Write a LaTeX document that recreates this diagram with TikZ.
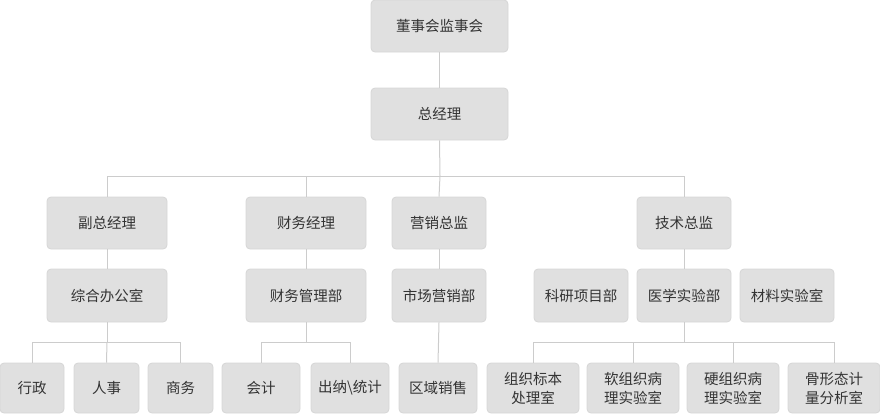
\documentclass[tikz,border=0pt]{standalone}
\usepackage{fontspec}
\setmainfont{Noto Sans CJK SC}
\definecolor{boxfill}{HTML}{E0E0E0}
\definecolor{boxline}{HTML}{D6D6D6}
\definecolor{conn}{HTML}{CCCCCC}
\definecolor{txt}{HTML}{333333}
\begin{document}
\begin{tikzpicture}[x=1pt,y=-1pt,
  box/.style={rectangle,rounded corners=4pt,fill=boxfill,draw=boxline,line width=0.8pt,
    inner sep=0pt,text=txt,font=\fontsize{14.5}{19}\selectfont,align=center,minimum height=52pt},
  link/.style={draw=conn,line width=1pt}]
\useasboundingbox (0,0) rectangle (880,413);
% level 0/1
\node[box,minimum width=137pt] (dsh) at (439.5,26) {董事会监事会};
\node[box,minimum width=137pt] (zjl) at (439.5,114) {总经理};
% level 2
\node[box,minimum width=120pt] (fz) at (107,223) {副总经理};
\node[box,minimum width=120pt] (cw) at (306,223) {财务经理};
\node[box,minimum width=94pt] (yx) at (439,223) {营销总监};
\node[box,minimum width=94pt] (js) at (684,223) {技术总监};
% level 3
\node[box,minimum width=120pt,minimum height=53pt] (zh) at (107,295.5) {综合办公室};
\node[box,minimum width=120pt,minimum height=53pt] (cwgl) at (306,295.5) {财务管理部};
\node[box,minimum width=94pt,minimum height=53pt] (sc) at (439,295.5) {市场营销部};
\node[box,minimum width=94pt,minimum height=53pt] (ky) at (581,295.5) {科研项目部};
\node[box,minimum width=94pt,minimum height=53pt] (yxsy) at (684,295.5) {医学实验部};
\node[box,minimum width=94pt,minimum height=53pt] (cl) at (787,295.5) {材料实验室};
% level 4
\node[box,minimum width=64pt,minimum height=50pt] (xz) at (32,388) {行政};
\node[box,minimum width=65pt,minimum height=50pt] (rs) at (106.5,388) {人事};
\node[box,minimum width=65pt,minimum height=50pt] (sw) at (180.5,388) {商务};
\node[box,minimum width=78pt,minimum height=50pt] (kj) at (261,388) {会计};
\node[box,minimum width=78pt,minimum height=50pt] (cn) at (350,388) {出纳\textbackslash 统计};
\node[box,minimum width=78pt,minimum height=50pt] (qy) at (438,388) {区域销售};
\node[box,minimum width=92pt,minimum height=50pt] (zz) at (533,388) {组织标本\\处理室};
\node[box,minimum width=92pt,minimum height=50pt] (rz) at (633,388) {软组织病\\理实验室};
\node[box,minimum width=92pt,minimum height=50pt] (yz) at (733,388) {硬组织病\\理实验室};
\node[box,minimum width=92pt,minimum height=50pt] (gx) at (834,388) {骨形态计\\量分析室};
% bus coordinates
\coordinate (b1) at (440,176);
\coordinate (b2) at (107,342);
\coordinate (b3) at (306,342);
\coordinate (b4) at (684,342);
% connectors
\draw[link] (dsh.south) -- (zjl.north);
\draw[link] (zjl.south) -- (b1);
\draw[link] (b1) -| (fz.north);
\draw[link] (b1) -| (cw.north);
\draw[link] (b1) -- (yx.north);
\draw[link] (b1) -| (js.north);
\draw[link] (fz.south) -- (zh.north);
\draw[link] (cw.south) -- (cwgl.north);
\draw[link] (yx.south) -- (sc.north);
\draw[link] (js.south) -- (yxsy.north);
\draw[link] (zh.south) -- (b2);
\draw[link] (b2) -| (xz.north);
\draw[link] (b2) -- (rs.north);
\draw[link] (b2) -| (sw.north);
\draw[link] (cwgl.south) -- (b3);
\draw[link] (b3) -| (kj.north);
\draw[link] (b3) -| (cn.north);
\draw[link] (sc.south) -- (qy.north);
\draw[link] (yxsy.south) -- (b4);
\draw[link] (b4) -| (zz.north);
\draw[link] (b4) -| (rz.north);
\draw[link] (b4) -| (yz.north);
\draw[link] (b4) -| (gx.north);
\end{tikzpicture}
\end{document}
